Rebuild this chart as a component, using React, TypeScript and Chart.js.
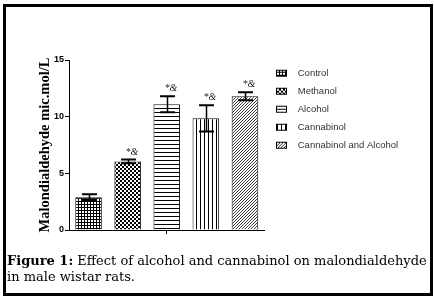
import React, { useEffect, useRef } from 'react';
import { Chart, registerables } from 'chart.js';

Chart.register(...registerables);

const groups = ['Control', 'Methanol', 'Alcohol', 'Cannabinol', 'Cannabinol and Alcohol'];
const means = [2.9, 6.05, 11.1, 9.85, 11.8];
const errors = [0.25, 0.17, 0.7, 1.15, 0.36];
const marks = ['', '*&', '*&', '*&', '*&'];
const yMin = 0;
const yMax = 15;
const yStep = 5;
const yTitle = 'Malondialdehyde mic.mol/L';
const captionBold = 'Figure 1:';
const captionLine1 = ' Effect of alcohol and cannabinol on malondialdehyde';
const captionLine2 = 'in male wistar rats.';

type Painter = (g: CanvasRenderingContext2D) => void;

function makeTile(w: number, h: number, paint: Painter): HTMLCanvasElement {
  const c = document.createElement('canvas');
  c.width = w;
  c.height = h;
  const g = c.getContext('2d')!;
  g.fillStyle = '#ffffff';
  g.fillRect(0, 0, w, h);
  g.fillStyle = '#000000';
  paint(g);
  return c;
}

const tileSpecs: Array<[number, number, Painter]> = [
  [3, 3, (g) => { g.fillRect(0, 0, 3, 1); g.fillRect(0, 0, 1, 3); }],
  [4, 4, (g) => { g.fillRect(0, 0, 2, 2); g.fillRect(2, 2, 2, 2); }],
  [1, 4, (g) => { g.fillRect(0, 0, 1, 1); }],
  [4, 1, (g) => { g.fillRect(0, 0, 1, 1); }],
  [3, 3, (g) => { g.fillStyle = '#3a3a3a'; g.fillRect(2, 0, 1, 1); g.fillRect(1, 1, 1, 1); g.fillRect(0, 2, 1, 1); }],
];

function makeSwatch(tile: HTMLCanvasElement): HTMLCanvasElement {
  const c = document.createElement('canvas');
  c.width = 20;
  c.height = 9;
  const g = c.getContext('2d')!;
  const p = g.createPattern(tile, 'repeat');
  if (p) g.fillStyle = p;
  g.fillRect(3, 1, 11, 7);
  g.strokeStyle = '#000';
  g.lineWidth = 1;
  g.strokeRect(3.5, 1.5, 10, 6);
  return c;
}

const errorBarPlugin = {
  id: 'errorBars',
  afterDatasetsDraw(chart: any) {
    const ctx: CanvasRenderingContext2D = chart.ctx;
    const meta = chart.getDatasetMeta(0);
    const y = chart.scales.y;
    ctx.save();
    ctx.strokeStyle = '#000';
    ctx.fillStyle = '#222';
    meta.data.forEach((bar: any, i: number) => {
      const x = Math.round(bar.x) + 0.5;
      const hi = y.getPixelForValue(means[i] + errors[i]);
      const lo = y.getPixelForValue(means[i] - errors[i]);
      const half = bar.width * 0.28;
      ctx.lineWidth = 1.5;
      ctx.beginPath();
      ctx.moveTo(x, hi);
      ctx.lineTo(x, lo);
      ctx.stroke();
      ctx.lineWidth = 2;
      ctx.beginPath();
      ctx.moveTo(x - half, hi);
      ctx.lineTo(x + half, hi);
      ctx.moveTo(x - half, lo);
      ctx.lineTo(x + half, lo);
      ctx.stroke();
      if (marks[i]) {
        ctx.font = 'italic 10px "Liberation Serif", serif';
        ctx.textAlign = 'center';
        ctx.textBaseline = 'alphabetic';
        ctx.fillText(marks[i], x + 3.5, hi - 5);
      }
    });
    ctx.restore();
  },
};

export default function App() {
  const ref = useRef<HTMLCanvasElement | null>(null);

  useEffect(() => {
    const canvas = ref.current;
    if (!canvas) return;
    const ctx = canvas.getContext('2d')!;
    const tiles = tileSpecs.map(([w, h, p]) => makeTile(w, h, p));
    const patterns = tiles.map((t) => ctx.createPattern(t, 'repeat') as CanvasPattern);
    const swatches = tiles.map((t) => makeSwatch(t));
    const targetRight = 264.5;

    const config: any = {
      type: 'bar',
      data: {
        labels: groups,
        datasets: [
          {
            label: 'MDA',
            data: means,
            backgroundColor: patterns,
            borderColor: '#111',
            borderWidth: 1,
            barPercentage: 0.68,
            categoryPercentage: 1,
          },
        ],
      },
      options: {
        animation: false,
        responsive: false,
        maintainAspectRatio: false,
        events: [],
        layout: { padding: { top: 60, left: 0, right: 40, bottom: 62 } },
        plugins: {
          tooltip: { enabled: false },
          legend: {
            display: true,
            position: 'right',
            align: 'start',
            maxWidth: 220,
            labels: {
              usePointStyle: true,
              pointStyleWidth: 20,
              padding: 8.5,
              color: '#333',
              font: { family: '"Liberation Sans", Arial, sans-serif', size: 9.5 },
              generateLabels: () =>
                groups.map((g, i) => ({
                  text: g,
                  fillStyle: patterns[i],
                  strokeStyle: '#000',
                  lineWidth: 1,
                  pointStyle: swatches[i],
                  hidden: false,
                  index: i,
                  datasetIndex: 0,
                  fontColor: '#333',
                })),
            },
          },
        },
        scales: {
          x: {
            offset: true,
            grid: {
              display: true,
              drawOnChartArea: false,
              offset: false,
              tickLength: 4,
              lineWidth: 1,
              color: (c: any) => (c.index === 2 ? '#000' : 'rgba(0,0,0,0)'),
            },
            border: { display: true, color: '#000', width: 1 },
            ticks: { display: false },
            afterFit: (s: any) => { s.height = 10; },
          },
          y: {
            min: yMin,
            max: yMax,
            ticks: {
              stepSize: yStep,
              color: '#000',
              padding: 1,
              font: { family: '"Liberation Sans", Arial, sans-serif', size: 9, weight: 'bold' },
            },
            grid: { drawOnChartArea: false, tickLength: 4, color: '#000', lineWidth: 1 },
            border: { display: true, color: '#000', width: 1 },
            title: {
              display: true,
              text: yTitle,
              color: '#000',
              font: { family: '"Liberation Serif", "Times New Roman", serif', size: 14.5, weight: 'bold' },
              padding: { top: 37, bottom: 0 },
            },
            afterFit: (s: any) => { s.width = 69; },
          },
        },
      },
      plugins: [errorBarPlugin],
    };

    const chart = new Chart(canvas, config);
    for (let k = 0; k < 3; k++) {
      const diff = chart.chartArea.right - targetRight;
      if (Math.abs(diff) < 0.01) break;
      config.options.layout.padding.right += diff;
      chart.update();
    }
    return () => chart.destroy();
  }, []);

  return (
    <div style={{ position: 'absolute', left: 0, top: 0, width: 434, height: 302, background: '#fff', overflow: 'hidden' }}>
      <div
        style={{
          position: 'absolute',
          left: 3,
          top: 4,
          width: 430,
          height: 292,
          boxSizing: 'border-box',
          border: '3px solid #000',
        }}
      />
      <canvas ref={ref} width={434} height={302} style={{ position: 'absolute', left: 0, top: 0, width: 434, height: 302 }} />
      <div
        style={{
          position: 'absolute',
          left: 7,
          top: 253,
          fontFamily: '"DejaVu Serif", serif',
          fontSize: 13,
          lineHeight: '16px',
          color: '#000',
          whiteSpace: 'nowrap',
        }}
      >
        <b>{captionBold}</b>
        {captionLine1}
        <br />
        {captionLine2}
      </div>
    </div>
  );
}
